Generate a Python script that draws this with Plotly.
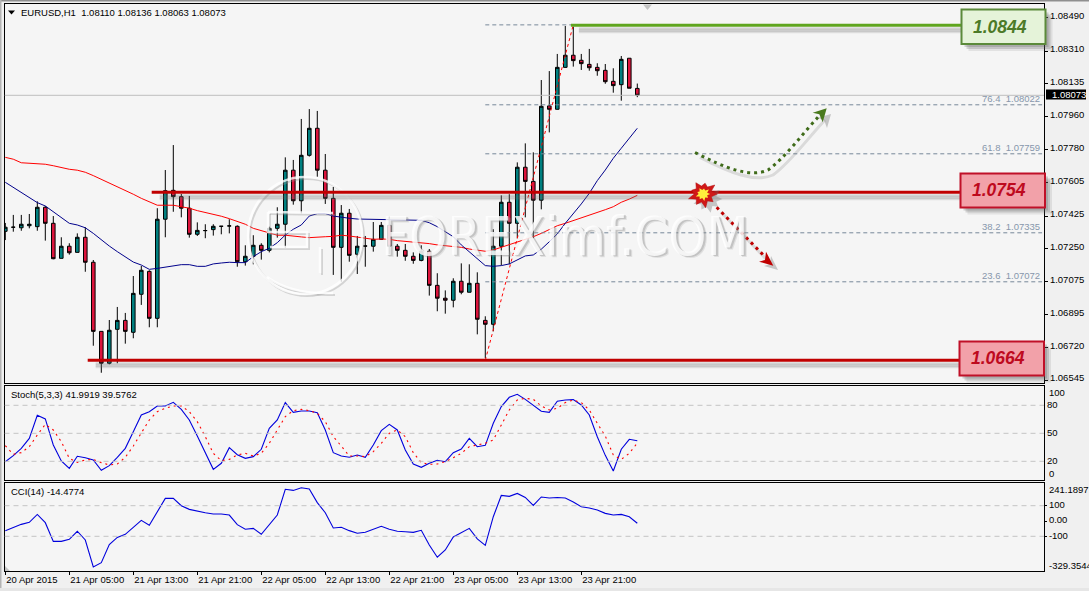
import math
import plotly.graph_objects as go

W, H = 1089, 591
bar_index = list(range(80))

open_px = [1.07343,1.07365,1.07362,1.07373,1.07368,1.07472,1.07386,1.07198,1.07263,1.07230,
 1.07311,1.07177,1.06806,1.06635,1.06817,1.06865,1.06801,1.07005,1.07128,1.06876,
 1.07408,1.07563,1.07529,1.07467,1.07327,1.07347,1.07352,1.07370,1.07372,1.07370,
 1.07180,1.07209,1.07268,1.07241,1.07359,1.07381,1.07671,1.07507,1.07751,1.07896,
 1.07671,1.07520,1.07257,1.07440,1.07220,1.07264,1.07263,1.07300,1.07375,1.07263,
 1.07241,1.07209,1.07187,1.07236,1.07053,1.06984,1.06973,1.07075,1.07016,1.07064,
 1.06865,1.06844,1.07263,1.07499,1.07386,1.07687,1.07611,1.07510,1.08016,1.07998,
 1.08223,1.08288,1.08261,1.08239,1.08223,1.08207,1.08148,1.08130,1.08272,1.08110]
high_px = [1.07388,1.07431,1.07431,1.07436,1.07504,1.07479,1.07425,1.07311,1.07279,1.07332,
 1.07365,1.07189,1.06806,1.06867,1.06937,1.06905,1.07103,1.07157,1.07134,1.07467,
 1.07672,1.07806,1.07543,1.07533,1.07391,1.07381,1.07381,1.07370,1.07408,1.07375,
 1.07268,1.07322,1.07279,1.07368,1.07472,1.07740,1.07726,1.07946,1.07999,1.07989,
 1.07758,1.07581,1.07484,1.07463,1.07318,1.07318,1.07393,1.07393,1.07422,1.07275,
 1.07275,1.07230,1.07268,1.07248,1.07118,1.07026,1.07091,1.07171,1.07166,1.07123,
 1.06887,1.07354,1.07536,1.07542,1.07713,1.07815,1.07767,1.08155,1.08203,1.08295,
 1.08445,1.08441,1.08295,1.08322,1.08245,1.08241,1.08218,1.08284,1.08272,1.08136]
low_px = [1.07296,1.07341,1.07346,1.07359,1.07346,1.07293,1.07193,1.07198,1.07218,1.07230,
 1.07126,1.06729,1.06584,1.06629,1.06635,1.06740,1.06769,1.06948,1.06828,1.06828,
 1.07311,1.07448,1.07418,1.07309,1.07318,1.07306,1.07320,1.07327,1.07332,1.07153,
 1.07159,1.07166,1.07191,1.07230,1.07309,1.07255,1.07486,1.07440,1.07744,1.07636,
 1.07490,1.07109,1.07073,1.07180,1.07114,1.07153,1.07234,1.07300,1.07220,1.07207,
 1.07185,1.07169,1.07182,1.06998,1.06914,1.06901,1.06935,1.07005,1.07016,1.06790,
 1.06662,1.06806,1.07161,1.07166,1.07306,1.07418,1.07306,1.07461,1.07874,1.07997,
 1.08221,1.08227,1.08209,1.08205,1.08178,1.08135,1.08087,1.08044,1.08111,1.08063]
close_px = [1.07365,1.07365,1.07381,1.07381,1.07472,1.07386,1.07196,1.07263,1.07228,1.07311,
 1.07177,1.06806,1.06635,1.06812,1.06865,1.06806,1.07010,1.07134,1.06876,1.07408,
 1.07561,1.07529,1.07467,1.07327,1.07348,1.07347,1.07370,1.07370,1.07372,1.07180,
 1.07209,1.07268,1.07241,1.07359,1.07381,1.07671,1.07507,1.07751,1.07896,1.07671,
 1.07520,1.07257,1.07440,1.07214,1.07263,1.07264,1.07300,1.07375,1.07263,1.07241,
 1.07209,1.07187,1.07236,1.07053,1.06984,1.06973,1.07075,1.07016,1.07064,1.06871,
 1.06844,1.07263,1.07499,1.07386,1.07687,1.07611,1.07510,1.08014,1.07998,1.08223,
 1.08288,1.08259,1.08243,1.08221,1.08205,1.08146,1.08125,1.08266,1.08111,1.08073]

ma_red = [1.07740,1.07730,1.07711,1.07708,1.07708,1.07703,1.07695,1.07685,1.07676,1.07671,
 1.07660,1.07642,1.07622,1.07602,1.07586,1.07565,1.07542,1.07520,1.07502,1.07483,
 1.07483,1.07483,1.07475,1.07467,1.07454,1.07445,1.07434,1.07424,1.07411,1.07398,
 1.07381,1.07359,1.07346,1.07336,1.07322,1.07322,1.07316,1.07313,1.07309,1.07313,
 1.07314,1.07316,1.07322,1.07318,1.07311,1.07303,1.07300,1.07302,1.07300,1.07293,
 1.07289,1.07287,1.07284,1.07277,1.07270,1.07266,1.07260,1.07257,1.07248,1.07241,
 1.07236,1.07243,1.07257,1.07273,1.07287,1.07302,1.07314,1.07332,1.07354,1.07373,
 1.07386,1.07400,1.07414,1.07429,1.07443,1.07459,1.07475,1.07499,1.07516,1.07536]
ma_blue = [1.07606,1.07579,1.07552,1.07523,1.07497,1.07479,1.07448,1.07413,1.07386,1.07377,
 1.07362,1.07332,1.07296,1.07264,1.07234,1.07207,1.07178,1.07162,1.07139,1.07144,
 1.07151,1.07159,1.07164,1.07164,1.07155,1.07155,1.07168,1.07173,1.07177,1.07175,
 1.07175,1.07207,1.07234,1.07252,1.07282,1.07323,1.07354,1.07377,1.07425,1.07438,
 1.07438,1.07425,1.07418,1.07413,1.07409,1.07408,1.07408,1.07405,1.07404,1.07402,
 1.07402,1.07402,1.07402,1.07389,1.07368,1.07341,1.07314,1.07270,1.07234,1.07198,
 1.07159,1.07155,1.07159,1.07168,1.07189,1.07211,1.07216,1.07247,1.07287,1.07329,
 1.07386,1.07436,1.07490,1.07547,1.07615,1.07672,1.07735,1.07789,1.07842,1.07896]

stoch_main = [19.6,26.1,33.9,44.6,69.3,65.4,37.5,20.4,12.5,25.4,23.9,21.4,10.4,15.4,24.3,33.9,
 51.8,69.6,73.2,79.3,79.3,83.2,75.7,64.3,47.1,28.6,11.4,17.9,34.6,27.1,23.2,25.0,32.9,55.4,
 64.3,82.9,72.5,73.9,73.9,72.1,53.6,29.3,25.7,24.3,26.8,24.3,37.5,52.9,59.6,53.6,32.1,17.1,
 13.6,17.9,21.1,19.6,29.3,33.2,44.6,35.7,37.1,60.7,78.6,88.6,91.8,86.4,80.0,73.6,72.5,84.3,
 85.7,86.1,80.4,69.6,46.4,26.4,9.6,32.9,43.6,41.99]
stoch_signal = [36.8,27.5,29.3,35.7,48.2,59.6,53.6,41.1,23.2,18.9,21.4,22.1,18.6,16.1,17.1,24.3,
 36.4,50.7,64.3,73.2,76.8,79.3,79.3,73.2,62.5,46.4,28.6,20.7,22.1,26.8,28.6,25.7,28.6,39.3,
 54.3,67.9,74.3,75.7,74.3,71.4,62.5,46.4,36.4,25.7,25.7,25.0,30.4,39.3,50.0,53.6,46.4,29.3,
 18.6,16.8,17.1,19.6,23.9,28.6,35.7,37.5,39.3,42.9,58.9,75.0,85.7,87.5,86.4,79.3,75.0,76.8,
 82.9,85.7,82.9,75.0,60.7,47.1,26.8,22.1,28.6,39.58]
cci_values = [-63,-41,-22,-9,43,-11,-133,-133,-120,-67,-124,-300,-272,-154,-107,-87,-41,4,-28,65,
 148,148,100,76,63,54,46,46,39,-24,-54,-48,-87,-22,39,207,200,217,209,120,54,-46,
 -41,-63,-80,-74,-52,-35,-54,-67,-70,-74,-61,-157,-237,-189,-104,-74,-48,-117,-159,28,
 167,161,180,154,102,157,150,154,150,124,93,85,72,50,39,43,28,-14.48]

price_ticks = [1.08490,1.08310,1.08135,1.07960,1.07780,1.07605,1.07425,1.07250,1.07075,1.06895,1.06720,1.06545]
time_tick_index = [0,8,16,24,32,40,48,56,64,72]
time_tick_labels = ["20 Apr 2015","21 Apr 05:00","21 Apr 13:00","21 Apr 21:00","22 Apr 05:00",
                    "22 Apr 13:00","22 Apr 21:00","23 Apr 05:00","23 Apr 13:00","23 Apr 21:00"]
fib_levels = [1.08022,1.07759,1.07335,1.07072]
fib_ratio = ["76.4","61.8","38.2","23.6"]
fib_top, fib_bottom = 1.08451, 1.06651
green_level, red_level_mid, red_level_low = 1.08449, 1.07552, 1.06651
last_price = 1.08073

FONT = "Liberation Sans"
def px(x): return x / W
def py(y): return 1 - y / H

fig = go.Figure()
fig.add_trace(go.Candlestick(x=bar_index, open=open_px, high=high_px, low=low_px, close=close_px,
    increasing=dict(line=dict(color="#000000", width=1), fillcolor="#008080"),
    decreasing=dict(line=dict(color="#000000", width=1), fillcolor="#DC143C"),
    whiskerwidth=0, xaxis="x", yaxis="y", hoverinfo="skip", showlegend=False))
fig.add_trace(go.Scatter(x=bar_index, y=ma_red, mode="lines", line=dict(color="#FF0000", width=1), xaxis="x", yaxis="y", showlegend=False))
fig.add_trace(go.Scatter(x=bar_index, y=ma_blue, mode="lines", line=dict(color="#00008B", width=1), xaxis="x", yaxis="y", showlegend=False))
fig.add_trace(go.Scatter(x=bar_index, y=stoch_main, mode="lines", line=dict(color="#0000DD", width=1.1), xaxis="x2", yaxis="y2", showlegend=False))
fig.add_trace(go.Scatter(x=bar_index, y=stoch_signal, mode="lines", line=dict(color="#FF0000", width=1.1, dash="2px,4px"), xaxis="x2", yaxis="y2", showlegend=False))
fig.add_trace(go.Scatter(x=bar_index, y=cci_values, mode="lines", line=dict(color="#0000DD", width=1.1), xaxis="x3", yaxis="y3", showlegend=False))

shapes, ann = [], []
def prect(x0, y0, x1, y1, fill, line=None, lw=0):
    shapes.append(dict(type="rect", xref="paper", yref="paper", x0=px(x0), x1=px(x1), y0=py(y0), y1=py(y1),
                       fillcolor=fill, line=dict(color=line or fill, width=lw)))
def ppath(points, fill=None, line=None, lw=0, dash="solid", curve=False):
    if curve:
        d = f"M {px(points[0][0])},{py(points[0][1])}"
        for i in range(1, len(points), 3):
            d += " C " + " ".join(f"{px(a)},{py(b)}" for a, b in points[i:i+3])
    else:
        d = "M " + " L ".join(f"{px(a)},{py(b)}" for a, b in points) + (" Z" if fill else "")
    shapes.append(dict(type="path", xref="paper", yref="paper", path=d, fillcolor=fill or "rgba(0,0,0,0)",
                       line=dict(color=line or "rgba(0,0,0,0)", width=lw, dash=dash)))
def text(x, y, s, size=9.5, color="#000000", anchor="left", bold=False, family=FONT, bg=None, italic=False):
    t = s
    if bold: t = f"<b>{t}</b>"
    if italic: t = f"<i>{t}</i>"
    ann.append(dict(xref="paper", yref="paper", x=px(x), y=py(y), text=t, showarrow=False, xanchor=anchor, yanchor="middle",
                    font=dict(family=family, size=size, color=color), borderpad=0, bgcolor=bg))
def dline(x0, x1, y, color, width, dash="solid", yref="y", xref="x"):
    shapes.append(dict(type="line", xref=xref, yref=yref, x0=x0, x1=x1, y0=y, y1=y, line=dict(color=color, width=width, dash=dash)))

# window edges
prect(0, 0, W, 1.6, "#8f8f8f")
prect(0, 0, 1.5, H, "#b4b4b4")
prect(0, 588, W, H, "#e6e6e6")

# watermark logo (behind the text of the watermark)
for off, col, lw in [(2, "rgba(150,150,150,0.35)", 2), (0, "rgba(255,255,255,0.8)", 2.5)]:
    shapes.append(dict(type="circle", xref="paper", yref="paper", x0=px(248+off), x1=px(362+off), y0=py(177+off), y1=py(294+off),
                       line=dict(color=col, width=lw)))
    ppath([(268+off,212+off),(333+off,213+off)], line=col, lw=lw)
    ppath([(268+off,212+off),(268+off,232+off),(307+off,232+off),(307+off,247+off),(270+off,247+off)], line=col, lw=lw)
    ppath([(320+off,247+off),(320+off,273+off)], line=col, lw=lw)
    ppath([(267+off,277+off),(282+off,288+off),(305+off,294+off),(333+off,293+off)], line=col, lw=lw, curve=True)
for dx, col in [(3, "rgba(150,150,150,0.22)"), (2, "rgba(130,130,130,0.30)"), (0, "rgba(255,255,255,0.82)")]:
    text(380+dx, 236+dx, "FOREXimf.COM", size=54, color=col, family="DejaVu Sans Condensed, Liberation Sans")

# last price line
dline(-0.1, 129.84, last_price, "#BEBEBE", 1)

# fibonacci
fib_dash = "4px,3px"
dline(60, 71, fib_top, "#778899", 1, fib_dash)
for lvl, r in zip(fib_levels, fib_ratio):
    dline(60, 129.6, lvl, "#778899", 1, fib_dash)
    ann.append(dict(xref="paper", yref="y", x=px(1042), y=lvl, yshift=6, text=f"{r}  {lvl:.5f}", showarrow=False, xanchor="right", yanchor="middle",
                    font=dict(family=FONT, size=9.5, color="#8797AC")))
shapes.append(dict(type="line", xref="x", yref="y", x0=60, x1=71, y0=fib_bottom, y1=fib_top, line=dict(color="#FF0000", width=1, dash="3px,3px")))

# level lines with soft shadows
for k0, lvl, col in [(70.7, green_level, "#5FA51E"), (18.3, red_level_mid, "#C00000"), (10.3, red_level_low, "#C00000")]:
    for yo, w, a in [(3, 2, 0.2), (5, 3, 0.3), (7, 2, 0.18)]:
        shapes.append(dict(type="line", xref="x", yref="y", x0=k0+1, x1=120, y0=lvl-yo*5.367e-5, y1=lvl-yo*5.367e-5,
                           line=dict(color=f"rgba(110,110,110,{a})", width=w)))
    dline(k0, 120, lvl, col, 3)

# grid of the indicator panels
for v in [80, 50, 20]:
    dline(-0.1, 129.84, v, "#C4C4C4", 1, "5px,4px", yref="y2", xref="x2")
for v in [100, -100]:
    dline(-0.1, 129.84, v, "#C4C4C4", 1, "5px,4px", yref="y3", xref="x3")

# label boxes
for x0, y0, x1, y1, fill, edge, tx, ty, s, col in [
    (961.5, 9.5, 1045.5, 44, "#E5F3D9", "#5B8A3A", 1000, 26.5, "1.0844", "#4C7A28"),
    (960.5, 173.5, 1045, 207.5, "#F2A1A9", "#C01028", 998.5, 190, "1.0754", "#BE0A1E"),
    (959.5, 341.5, 1044, 375.5, "#F2A1A9", "#C01028", 997.5, 358, "1.0664", "#BE0A1E")]:
    for o, a in [(7, 0.12), (5, 0.22), (3, 0.25)]:
        prect(x0+o, y0+o, x1+o, y1+o, f"rgba(90,90,90,{a})")
    prect(x0, y0, x1, y1, fill, edge, 2)
    text(tx, ty, s, size=17.5, color=col, anchor="center", bold=True, italic=True)

# curved green arrow
green_curve = [(695,152.5),(725,168),(750,178),(768,170),(785,158),(803,133),(820,115)]
ppath([(a+5, b+5) for a, b in green_curve], line="rgba(110,110,110,0.2)", lw=3, curve=True)
ppath(green_curve, line="#3F6B1A", lw=3, dash="3px,4px", curve=True)
ppath([(831,114),(817,118),(824,120),(827,128)], fill="rgba(110,110,110,0.35)")
ppath([(826.7,108.3),(812.7,112.7),(819.3,114.3),(822.7,122.3)], fill="#4A7A1E")
# straight red arrow
ppath([(721,212),(767,260)], line="rgba(110,110,110,0.2)", lw=3)
ppath([(716.7,207.3),(763.3,255)], line="#C00000", lw=3, dash="3px,4px")
ppath([(778,270),(764,266),(770,264),(771,256)], fill="rgba(110,110,110,0.35)")
ppath([(773.3,265.7),(759,261.7),(765,260),(766,251.7)], fill="#C00000")
# explosion
radii_out = [13,8,12,8,14,8,12,8,14,8,11,8,13,8,11,8,14,8]
cx, cy = 703, 194
star = [(cx + r*math.cos(i*math.pi/9)*1.1, cy + r*math.sin(i*math.pi/9)) for i, r in enumerate(radii_out)]
ppath([(a+5, b+5) for a, b in star], fill="rgba(110,110,110,0.35)")
ppath(star, fill="#D01818", line="#B01010", lw=0.5)
ppath([(cx + r*0.5*math.cos(i*math.pi/9)*1.1, cy + r*0.5*math.sin(i*math.pi/9)) for i, r in enumerate(radii_out)], fill="#FFF23C")

# little grey markers
ppath([(643,4.5),(652,4.5),(647.5,10)], fill="#C4C4C4")
ppath([(5,571),(10,571),(5,566)], fill="#C4C4C4")
# header triangle
ppath([(8,10.5),(15,10.5),(11.5,14.5)], fill="#000000")

# last price label
prect(1046, 89.5, 1086, 99.5, "#000000")
text(1050.5, 94.3, f"{last_price:.5f}", color="#FFFFFF")

# texts
text(20, 12.5, f"EURUSD,H1&#160;&#160;{open_px[-1]:.5f} {high_px[-1]:.5f} {low_px[-1]:.5f} {close_px[-1]:.5f}")
text(9.5, 394.5, f"Stoch(5,3,3) {41.9919:.4f} {39.5762:.4f}")
text(9.5, 491.5, f"CCI(14) {-14.4774:.4f}")
text(1047.5, 392.3, "100")
text(1047.5, 473.7, "0")
text(1048, 489.8, "241.1897")
text(1047.5, 565, "-329.3544")

xrange_ = [-0.1, 129.84]
common_x = dict(range=xrange_, showgrid=False, zeroline=False, showline=True, mirror=True, linecolor="#000000", linewidth=1,
                automargin=False, rangeslider=dict(visible=False))
common_y = dict(showgrid=False, zeroline=False, showline=True, mirror=True, linecolor="#000000", linewidth=1, side="right", automargin=False,
                tickfont=dict(family=FONT, size=9.5, color="#000000"), ticks="outside", tickcolor="#000000", ticklen=3, tickwidth=1)
dom_x = [px(4.5), px(1044)]
fig.update_layout(
    width=W, height=H, margin=dict(l=0, r=0, t=0, b=0, autoexpand=False), autosize=False,
    paper_bgcolor="#F0F0F0", plot_bgcolor="#F5F5F5", showlegend=False, boxgap=0.36, hovermode=False,
    xaxis=dict(domain=dom_x, anchor="y", showticklabels=False, ticks="", **common_x),
    yaxis=dict(domain=[py(383.3), py(4.3)], anchor="x", range=[1.065273, 1.085614], tickvals=price_ticks,
               ticktext=[f"{v:.5f}" for v in price_ticks], ticklabelshift=-2, **common_y),
    xaxis2=dict(domain=dom_x, anchor="y2", showticklabels=False, ticks="", **common_x),
    yaxis2=dict(domain=[py(480), py(385.7)], anchor="x2", range=[0, 101], tickvals=[80, 50, 20], ticktext=["80", "50", "20"], ticklabelshift=-1, **{**common_y, "ticklen": 0}),
    xaxis3=dict(domain=dom_x, anchor="y3", tickvals=time_tick_index, ticktext=time_tick_labels, ticks="outside", ticklen=3, tickcolor="#000000",
                ticklabelposition="outside right", tickfont=dict(family=FONT, size=9.5, color="#000000"), **common_x),
    yaxis3=dict(domain=[py(571), py(482.5)], anchor="x3", range=[-326.8, 251.6], tickvals=[100, 0, -100], ticktext=["100", "0.00", "-100"], ticklabelshift=-1, **{**common_y, "ticklen": 2}),
    shapes=shapes, annotations=ann)
fig.write_html("out.html", config={"displayModeBar": False},
               post_script="document.body.style.margin='0';document.documentElement.style.overflow='hidden';")
